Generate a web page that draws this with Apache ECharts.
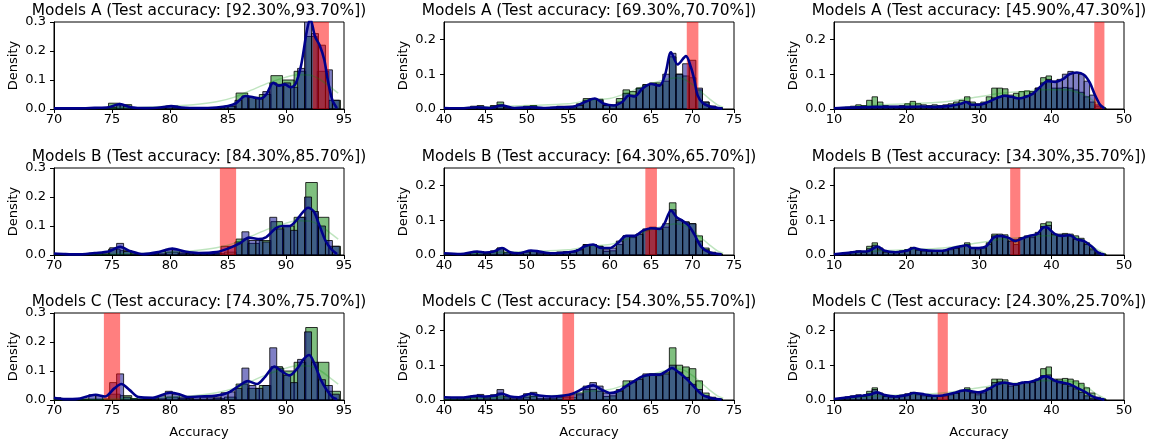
<!DOCTYPE html>
<html>
<head>
<meta charset="utf-8">
<script src="https://cdn.jsdelivr.net/npm/echarts@6/dist/echarts.min.js"></script>
<style>html,body{margin:0;padding:0;background:#fff}#c{width:1155px;height:443px}</style>
</head>
<body>
<div id="c"></div>
<script>
// ---------------- data ----------------
const models = ['A', 'B', 'C'];
// test-accuracy band per [row][col]
const bandsCol1 = [[92.3, 93.7], [84.3, 85.7], [74.3, 75.7]];
const bandsCol2 = [[69.3, 70.7], [64.3, 65.7], [54.3, 55.7]];
const bandsCol3 = [[45.9, 47.3], [34.3, 35.7], [24.3, 25.7]];

const xTicksCol1 = [70, 75, 80, 85, 90, 95];
const xTicksCol2 = [40, 45, 50, 55, 60, 65, 70, 75];
const xTicksCol3 = [10, 20, 30, 40, 50];
const yTicksCol1 = [0, 0.1, 0.2, 0.3];
const yTicksCol23 = [0, 0.1, 0.2];
const xRangeCol1 = [70, 95], xRangeCol2 = [40, 75], xRangeCol3 = [10, 50];
const yMaxCol1 = 0.3, yMaxCol23 = 0.25;

// histogram bins: [first edge, bin width]
const blueBinsCol1 = [70, 0.6], blueBinsCol2 = [40, 0.8], blueBinsCol3 = [10, 0.75];
const greenBinsCol1 = [69.7, 1.0], greenBinsCol2 = [40, 0.8], greenBinsCol3 = [10, 0.75];

// green (reference) histogram densities, shared by the column
const greenCol1 = [0.003,0.002,0.002,0.003,0.003,0.02,0.015,0.003,0.002,0.004,0.01,0.005,0.003,0.003,0.005,0.01,0.055,0.04,0.05,0.115,0.1,0.13,0.25,0.13,0.03];
const greenCol2 = [0.002,0.002,0.002,0.004,0.008,0.01,0.004,0.01,0.02,0.006,0.003,0.004,0.008,0.01,0.004,0.004,0.005,0.008,0.008,0.008,0.015,0.03,0.03,0.025,0.01,0.012,0.03,0.055,0.05,0.06,0.07,0.075,0.075,0.08,0.15,0.1,0.095,0.09,0.055,0.02,0.008,0.003];
const greenCol3 = [0.002,0.003,0.005,0.008,0.012,0.01,0.025,0.035,0.02,0.01,0.008,0.008,0.01,0.015,0.022,0.015,0.012,0.01,0.012,0.01,0.012,0.015,0.02,0.025,0.035,0.02,0.015,0.02,0.035,0.06,0.06,0.058,0.04,0.045,0.05,0.052,0.05,0.06,0.09,0.095,0.06,0.06,0.062,0.06,0.055,0.048,0.035,0.02,0.008,0.003];

// blue (model) histogram densities
const blueA1 = [0.002,0.001,0.001,0.003,0.003,0.004,0.004,0.001,0.005,0.015,0.01,0.002,0.001,0.001,0.001,0.005,0.01,0.005,0.003,0.002,0.002,0.003,0.003,0.003,0.008,0.01,0.03,0.045,0.04,0.035,0.06,0.09,0.085,0.09,0.075,0.14,0.32,0.26,0.22,0.135,0.03];
const blueB1 = [0.005,0.004,0.002,0.002,0.003,0.006,0.006,0.004,0.025,0.04,0.012,0.004,0.002,0.002,0.004,0.012,0.02,0.018,0.01,0.006,0.008,0.008,0.006,0.008,0.03,0.03,0.045,0.08,0.05,0.05,0.045,0.13,0.09,0.1,0.085,0.13,0.2,0.15,0.1,0.05,0.03];
const blueC1 = [0.008,0.003,0.002,0.002,0.003,0.018,0.015,0.003,0.06,0.09,0.01,0.005,0.002,0.002,0.004,0.015,0.03,0.02,0.01,0.005,0.012,0.01,0.008,0.01,0.025,0.028,0.04,0.11,0.05,0.04,0.05,0.18,0.11,0.085,0.06,0.14,0.235,0.13,0.07,0.05,0.02];
const blueA2 = [0.003,0.002,0.002,0.003,0.005,0.004,0.003,0.008,0.012,0.005,0.003,0.003,0.005,0.006,0.003,0.003,0.004,0.006,0.007,0.006,0.01,0.025,0.03,0.028,0.01,0.01,0.02,0.045,0.04,0.06,0.07,0.072,0.07,0.1,0.16,0.1,0.13,0.14,0.06,0.02,0.008,0.004];
const blueB2 = [0.004,0.003,0.003,0.004,0.008,0.01,0.005,0.012,0.02,0.008,0.004,0.005,0.01,0.012,0.008,0.005,0.006,0.008,0.01,0.01,0.015,0.03,0.03,0.025,0.015,0.02,0.04,0.055,0.055,0.06,0.075,0.08,0.075,0.09,0.13,0.1,0.095,0.09,0.04,0.015,0.006,0.002];
const blueC2 = [0.008,0.006,0.005,0.008,0.012,0.016,0.008,0.015,0.03,0.01,0.006,0.01,0.018,0.022,0.012,0.01,0.01,0.01,0.012,0.015,0.02,0.04,0.05,0.04,0.02,0.02,0.025,0.04,0.055,0.06,0.075,0.075,0.07,0.075,0.1,0.08,0.065,0.045,0.03,0.012,0.005,0.002];
const blueA3 = [0.002,0.003,0.004,0.004,0.006,0.004,0.005,0.008,0.006,0.005,0.006,0.005,0.006,0.007,0.008,0.006,0.007,0.006,0.005,0.006,0.007,0.01,0.012,0.016,0.022,0.014,0.012,0.014,0.02,0.032,0.035,0.04,0.035,0.03,0.03,0.038,0.045,0.06,0.075,0.085,0.08,0.085,0.1,0.108,0.105,0.1,0.08,0.04,0.012,0.003];
const blueB3 = [0.002,0.004,0.006,0.009,0.011,0.008,0.018,0.028,0.015,0.008,0.008,0.01,0.012,0.015,0.02,0.014,0.012,0.012,0.012,0.012,0.014,0.018,0.02,0.025,0.03,0.02,0.02,0.022,0.03,0.055,0.055,0.052,0.04,0.03,0.05,0.055,0.055,0.065,0.082,0.085,0.058,0.055,0.058,0.055,0.045,0.042,0.03,0.015,0.005,0.002];
const blueC3 = [0.003,0.006,0.009,0.012,0.015,0.012,0.018,0.03,0.018,0.01,0.01,0.01,0.014,0.018,0.02,0.018,0.015,0.012,0.012,0.012,0.012,0.018,0.02,0.028,0.03,0.022,0.02,0.025,0.03,0.05,0.052,0.05,0.045,0.042,0.05,0.052,0.052,0.058,0.07,0.072,0.055,0.05,0.045,0.04,0.032,0.022,0.012,0.005,0.002,0.001];

// density curves: [accuracy, density]
const kdeA1 = [[70,0.002],[72,0.002],[73.5,0.004],[74.7,0.006],[75.7,0.017],[76.6,0.006],[78,0.003],[79.3,0.006],[80.1,0.01],[81,0.005],[82.5,0.003],[84,0.005],[85,0.01],[85.7,0.02],[86.5,0.045],[87.2,0.04],[87.8,0.036],[88.3,0.05],[88.9,0.09],[89.4,0.08],[89.9,0.085],[90.4,0.075],[90.8,0.085],[91.3,0.15],[91.8,0.27],[92.1,0.31],[92.5,0.25],[92.9,0.22],[93.3,0.17],[93.6,0.1],[94.0,0.03],[94.4,0.003]];
const kdeB1 = [[70,0.005],[71,0.003],[72,0.002],[73.5,0.007],[74.7,0.012],[75.7,0.028],[76.6,0.013],[77.7,0.003],[79,0.01],[80.2,0.022],[81.3,0.012],[82.5,0.007],[84,0.01],[85,0.022],[86,0.04],[86.8,0.06],[87.6,0.055],[88.3,0.062],[89.1,0.092],[89.7,0.1],[90.3,0.1],[90.8,0.115],[91.4,0.145],[91.9,0.163],[92.4,0.15],[92.9,0.1],[93.4,0.05],[93.9,0.02],[94.4,0.003]];
const kdeC1 = [[70,0.008],[71,0.003],[72,0.004],[73,0.014],[73.6,0.018],[74.4,0.012],[75.2,0.04],[75.8,0.055],[76.5,0.035],[77.3,0.01],[78.5,0.008],[80,0.025],[80.8,0.02],[81.5,0.01],[82.5,0.012],[84,0.015],[85,0.025],[86,0.05],[86.7,0.065],[87.5,0.055],[88.2,0.08],[89,0.115],[89.6,0.1],[90.3,0.085],[91,0.11],[91.5,0.14],[92,0.155],[92.5,0.12],[93,0.07],[93.5,0.035],[94,0.01],[94.4,0.003]];
const kdeA2 = [[40,0.003],[42,0.002],[44,0.005],[45.5,0.003],[47,0.01],[48.5,0.003],[50.5,0.005],[52,0.003],[54,0.005],[55.5,0.006],[57,0.02],[58.2,0.03],[59.3,0.015],[60.5,0.01],[61.5,0.02],[62.3,0.039],[63,0.036],[64,0.06],[65,0.072],[66,0.067],[66.7,0.1],[67.4,0.163],[68.2,0.128],[69.2,0.152],[69.8,0.12],[70.2,0.085],[70.6,0.04],[71.2,0.018],[72,0.008],[72.8,0.004],[73.6,0.001]];
const kdeB2 = [[40,0.005],[42,0.003],[44,0.01],[45,0.007],[46,0.01],[47,0.02],[48,0.008],[49,0.005],[50.5,0.013],[51.5,0.01],[53,0.005],[55,0.008],[56,0.012],[57,0.025],[58,0.03],[59,0.02],[60,0.02],[61,0.035],[62,0.055],[63,0.055],[64,0.07],[65,0.077],[66,0.075],[66.6,0.09],[67.4,0.128],[68.1,0.108],[68.8,0.098],[69.5,0.085],[70.2,0.06],[71,0.025],[72,0.008],[73.5,0.002]];
const kdeC2 = [[40,0.008],[42,0.007],[44,0.012],[45,0.01],[46,0.012],[47,0.018],[48,0.01],[49,0.008],[50.5,0.018],[51.5,0.013],[53,0.01],[54.5,0.013],[55.5,0.018],[57,0.035],[58,0.042],[59,0.03],[60,0.02],[61,0.025],[62,0.04],[63,0.055],[64,0.068],[65,0.073],[66,0.073],[67,0.085],[67.5,0.092],[68.3,0.08],[69.3,0.06],[70.3,0.035],[71.2,0.015],[72.5,0.004],[73.5,0.001]];
const kdeA3 = [[10,0.002],[12,0.004],[14,0.005],[16,0.006],[18,0.006],[20,0.006],[22,0.007],[24,0.006],[26,0.009],[27.5,0.015],[28.2,0.02],[29,0.012],[30,0.012],[31,0.018],[32.5,0.032],[33.5,0.038],[34.5,0.035],[35.5,0.03],[36.5,0.035],[37.5,0.045],[38.5,0.065],[39.5,0.08],[40.5,0.078],[41.5,0.085],[42.5,0.1],[43.5,0.105],[44.5,0.098],[45.3,0.075],[46,0.04],[46.7,0.012],[47.3,0.002]];
const kdeB3 = [[10,0.002],[12,0.006],[13.5,0.01],[14.5,0.01],[16,0.024],[17,0.012],[18.5,0.008],[20,0.012],[21,0.02],[22,0.015],[24,0.012],[25,0.012],[26,0.018],[27.5,0.025],[28.3,0.028],[29,0.02],[30,0.02],[31,0.025],[32,0.05],[33,0.055],[34,0.05],[35,0.04],[36,0.048],[37,0.055],[38,0.06],[39,0.08],[39.5,0.078],[40.5,0.06],[41.5,0.055],[42.5,0.057],[43.5,0.045],[44.5,0.04],[45.5,0.025],[46.5,0.006],[47.3,0.001]];
const kdeC3 = [[10,0.003],[12,0.008],[14,0.013],[15,0.016],[16,0.022],[17,0.014],[18.5,0.01],[20,0.014],[21,0.02],[22.5,0.016],[24,0.012],[25,0.013],[26.5,0.02],[28,0.028],[29,0.025],[30,0.022],[31,0.028],[32.5,0.045],[33.5,0.05],[35,0.045],[36,0.05],[37,0.052],[38,0.058],[39,0.068],[39.5,0.067],[40.5,0.055],[41.5,0.05],[42.5,0.045],[43.5,0.035],[44.5,0.025],[45.5,0.012],[46.5,0.004],[47.3,0.001]];
// green reference density curves
const greenKdeCol1 = [[70,0.001],[74,0.002],[76,0.004],[78,0.006],[80,0.01],[82,0.015],[84,0.025],[85.5,0.04],[87,0.065],[88.5,0.09],[90,0.11],[91,0.118],[92,0.117],[93,0.1],[94,0.07],[94.5,0.055]];
const greenKdeCol2 = [[40,0.002],[45,0.006],[50,0.01],[55,0.015],[57.5,0.025],[60,0.03],[62,0.045],[64,0.065],[66,0.08],[68,0.09],[69,0.085],[70,0.07],[71,0.05],[72,0.03],[73,0.012],[73.7,0.005]];
const greenKdeCol3 = [[10,0.002],[15,0.01],[20,0.015],[25,0.02],[30,0.035],[33,0.045],[36,0.05],[39,0.055],[42,0.055],[44,0.045],[45,0.035],[46,0.02],[47,0.008],[47.5,0.003]];

// ---------------- assembly ----------------
const FONT = 'DejaVu Sans';
const LEFTS = [54, 444, 834], TOPS = [22, 168, 313], W = 290, H = 87;

const cols = [
  { bands: bandsCol1, xr: xRangeCol1, xt: xTicksCol1, yMax: yMaxCol1, yt: yTicksCol1, bb: blueBinsCol1, gb: greenBinsCol1, green: greenCol1, gk: greenKdeCol1, blue: [blueA1, blueB1, blueC1], kde: [kdeA1, kdeB1, kdeC1] },
  { bands: bandsCol2, xr: xRangeCol2, xt: xTicksCol2, yMax: yMaxCol23, yt: yTicksCol23, bb: blueBinsCol2, gb: greenBinsCol2, green: greenCol2, gk: greenKdeCol2, blue: [blueA2, blueB2, blueC2], kde: [kdeA2, kdeB2, kdeC2] },
  { bands: bandsCol3, xr: xRangeCol3, xt: xTicksCol3, yMax: yMaxCol23, yt: yTicksCol23, bb: blueBinsCol3, gb: greenBinsCol3, green: greenCol3, gk: greenKdeCol3, blue: [blueA3, blueB3, blueC3], kde: [kdeA3, kdeB3, kdeC3] }
];

function bins(vals, spec) {
  return vals.map((h, i) => [spec[0] + i * spec[1], spec[0] + (i + 1) * spec[1], h]);
}
function histRender(fill) {
  return function (params, api) {
    const a = api.coord([api.value(0), api.value(2)]);
    const b = api.coord([api.value(1), 0]);
    return { type: 'rect', shape: { x: a[0], y: a[1], width: b[0] - a[0], height: b[1] - a[1] },
      style: { fill: fill, stroke: 'rgba(0,0,0,0.8)', lineWidth: 1 } };
  };
}
function bandRender(params, api) {
  const a = api.coord([api.value(0), 0]);
  const b = api.coord([api.value(1), 0]);
  const cs = params.coordSys;
  return { type: 'rect', shape: { x: a[0], y: cs.y, width: b[0] - a[0], height: cs.height },
    style: { fill: 'rgba(255,0,0,0.5)' } };
}

const grid = [], xAxis = [], yAxis = [], series = [], title = [];
for (let r = 0; r < 3; r++) {
  for (let c = 0; c < 3; c++) {
    const g = r * 3 + c, col = cols[c], band = col.bands[r];
    grid.push({ left: LEFTS[c], top: TOPS[r], width: W, height: H, show: true,
      borderColor: '#000', borderWidth: 1, backgroundColor: 'transparent' });
    title.push({ text: 'Models ' + models[r] + ' (Test accuracy: [' + band[0].toFixed(2) + '%,' + band[1].toFixed(2) + '%])',
      left: LEFTS[c] + W / 2, top: TOPS[r] - 19, textAlign: 'center', padding: 0,
      textStyle: { fontSize: 15.4, fontWeight: 'normal', color: '#000', fontFamily: FONT } });
    xAxis.push({ type: 'value', gridIndex: g, min: col.xr[0], max: col.xr[1],
      name: r === 2 ? 'Accuracy' : '', nameLocation: 'middle', nameGap: 26,
      nameTextStyle: { fontSize: 13, color: '#000', fontFamily: FONT },
      axisLine: { show: true, onZero: false, lineStyle: { color: '#000', width: 1 } },
      axisTick: { show: true, length: 4, customValues: col.xt, lineStyle: { color: '#000' } },
      axisLabel: { customValues: col.xt, color: '#000', fontSize: 13, fontFamily: FONT, margin: 4 },
      splitLine: { show: false } });
    yAxis.push({ type: 'value', gridIndex: g, min: 0, max: col.yMax,
      name: 'Density', nameLocation: 'middle', nameGap: 34,
      nameTextStyle: { fontSize: 13, color: '#000', fontFamily: FONT },
      axisLine: { show: true, onZero: false, lineStyle: { color: '#000', width: 1 } },
      axisTick: { show: true, length: 4, customValues: col.yt, lineStyle: { color: '#000' } },
      axisLabel: { customValues: col.yt, color: '#000', fontSize: 13, fontFamily: FONT, margin: 8,
        formatter: v => v.toFixed(1) },
      splitLine: { show: false } });
    series.push({ type: 'custom', xAxisIndex: g, yAxisIndex: g, z: 1, clip: true, silent: true,
      renderItem: histRender('rgba(0,128,0,0.5)'), encode: { x: [0, 1], y: 2 }, data: bins(col.green, col.gb) });
    series.push({ type: 'custom', xAxisIndex: g, yAxisIndex: g, z: 2, clip: true, silent: true,
      renderItem: histRender('rgba(0,0,139,0.5)'), encode: { x: [0, 1], y: 2 }, data: bins(col.blue[r], col.bb) });
    series.push({ type: 'custom', xAxisIndex: g, yAxisIndex: g, z: 3, clip: true, silent: true,
      renderItem: bandRender, encode: { x: [0, 1] }, data: [band] });
    series.push({ type: 'line', xAxisIndex: g, yAxisIndex: g, z: 4, clip: true, silent: true, smooth: 0.3,
      symbol: 'none', lineStyle: { color: 'rgba(0,150,0,0.25)', width: 1.5 }, data: col.gk });
    series.push({ type: 'line', xAxisIndex: g, yAxisIndex: g, z: 5, clip: true, silent: true, smooth: 0.3,
      symbol: 'none', lineStyle: { color: '#00008b', width: 2.6 }, data: col.kde[r] });
  }
}

const chart = echarts.init(document.getElementById('c'), null, { renderer: 'canvas' });
chart.setOption({ animation: false, backgroundColor: '#fff', title, grid, xAxis, yAxis, series });
</script>
</body>
</html>
